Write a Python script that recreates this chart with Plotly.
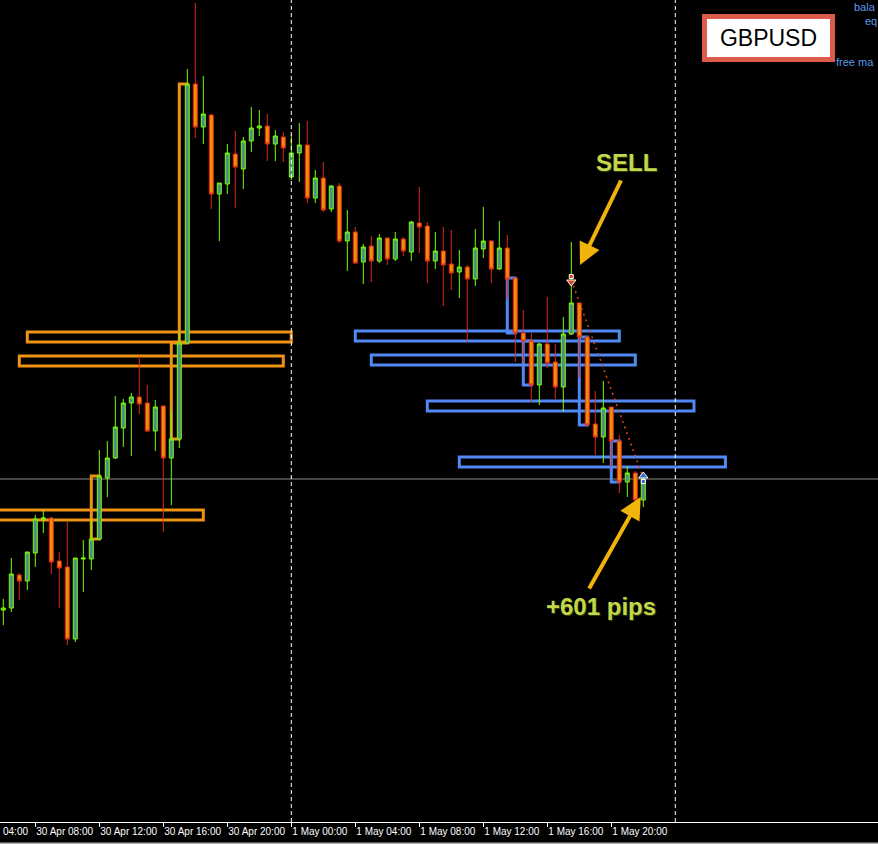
import pandas as pd
import plotly.graph_objects as go

# ---------------- data ----------------
times = pd.date_range("2019-04-30 06:00", periods=81, freq="30min")

open_ = [1.2090, 1.2092, 1.2125, 1.2119, 1.2147, 1.2181, 1.2182, 1.2139, 1.2133, 1.2061,
         1.2141, 1.2141, 1.2161, 1.2222, 1.2242, 1.2272, 1.2297, 1.2303, 1.2297, 1.2269,
         1.2294, 1.2242, 1.2261, 1.2357, 1.2616, 1.2573, 1.2585, 1.2506, 1.2516, 1.2546,
         1.2531, 1.2559, 1.2572, 1.2574, 1.2556, 1.2563, 1.2523, 1.2547, 1.2555, 1.2502,
         1.2522, 1.2491, 1.2514, 1.2459, 1.2468, 1.2438, 1.2454, 1.2439, 1.2462, 1.2441,
         1.2461, 1.2448, 1.2477, 1.2474, 1.2439, 1.2449, 1.2436, 1.2428, 1.2433, 1.2421,
         1.2451, 1.2459, 1.2431, 1.2452, 1.2422, 1.2367, 1.2359, 1.2315, 1.2356, 1.2338,
         1.2313, 1.2366, 1.2397, 1.2363, 1.2276, 1.2263, 1.2293, 1.2259, 1.2218, 1.2227,
         1.2200]
high = [1.2101, 1.2142, 1.2127, 1.2148, 1.2185, 1.2190, 1.2183, 1.2148, 1.2178, 1.2142,
        1.2160, 1.2181, 1.2250, 1.2259, 1.2304, 1.2301, 1.2307, 1.2344, 1.2315, 1.2300,
        1.2295, 1.2290, 1.2368, 1.2631, 1.2697, 1.2624, 1.2586, 1.2517, 1.2556, 1.2569,
        1.2563, 1.2593, 1.2590, 1.2586, 1.2570, 1.2568, 1.2566, 1.2577, 1.2579, 1.2530,
        1.2538, 1.2515, 1.2517, 1.2490, 1.2473, 1.2456, 1.2464, 1.2466, 1.2462, 1.2468,
        1.2463, 1.2479, 1.2513, 1.2478, 1.2468, 1.2473, 1.2470, 1.2450, 1.2435, 1.2471,
        1.2493, 1.2460, 1.2479, 1.2465, 1.2422, 1.2390, 1.2367, 1.2357, 1.2403, 1.2356,
        1.2383, 1.2458, 1.2397, 1.2363, 1.2309, 1.2319, 1.2293, 1.2265, 1.2234, 1.2229,
        1.2224]
low = [1.2075, 1.2088, 1.2100, 1.2110, 1.2133, 1.2167, 1.2126, 1.2092, 1.2055, 1.2058,
       1.2108, 1.2130, 1.2160, 1.2203, 1.2241, 1.2253, 1.2244, 1.2286, 1.2268, 1.2249,
       1.2168, 1.2195, 1.2252, 1.2357, 1.2562, 1.2556, 1.2491, 1.2459, 1.2506, 1.2492,
       1.2511, 1.2548, 1.2564, 1.2539, 1.2539, 1.2538, 1.2520, 1.2518, 1.2497, 1.2497,
       1.2488, 1.2488, 1.2457, 1.2429, 1.2436, 1.2416, 1.2418, 1.2437, 1.2435, 1.2439,
       1.2444, 1.2439, 1.2447, 1.2417, 1.2431, 1.2394, 1.2410, 1.2402, 1.2358, 1.2414,
       1.2442, 1.2417, 1.2430, 1.2401, 1.2338, 1.2337, 1.2298, 1.2295, 1.2332, 1.2301,
       1.2288, 1.2365, 1.2322, 1.2274, 1.2245, 1.2237, 1.2233, 1.2207, 1.2203, 1.2197,
       1.2193]
close = [1.2092, 1.2126, 1.2119, 1.2148, 1.2181, 1.2182, 1.2138, 1.2132, 1.2061, 1.2142,
         1.2142, 1.2161, 1.2224, 1.2242, 1.2273, 1.2297, 1.2303, 1.2296, 1.2269, 1.2293,
         1.2242, 1.2261, 1.2357, 1.2616, 1.2573, 1.2586, 1.2506, 1.2517, 1.2547, 1.2533,
         1.2559, 1.2572, 1.2574, 1.2556, 1.2564, 1.2552, 1.2547, 1.2555, 1.2502, 1.2522,
         1.2490, 1.2514, 1.2459, 1.2468, 1.2437, 1.2453, 1.2439, 1.2462, 1.2441, 1.2461,
         1.2449, 1.2478, 1.2473, 1.2439, 1.2449, 1.2435, 1.2427, 1.2433, 1.2421, 1.2452,
         1.2459, 1.2431, 1.2452, 1.2421, 1.2367, 1.2359, 1.2315, 1.2356, 1.2337, 1.2313,
         1.2366, 1.2397, 1.2363, 1.2275, 1.2263, 1.2292, 1.2259, 1.2218, 1.2227, 1.2200,
         1.2221]

tick_vals = ["2019-04-30 08:00", "2019-04-30 12:00", "2019-04-30 16:00", "2019-04-30 20:00",
             "2019-05-01 00:00", "2019-05-01 04:00", "2019-05-01 08:00", "2019-05-01 12:00",
             "2019-05-01 16:00", "2019-05-01 20:00"]
tick_text = ["30 Apr 08:00", "30 Apr 12:00", "30 Apr 16:00", "30 Apr 20:00",
             "1 May 00:00", "1 May 04:00", "1 May 08:00", "1 May 12:00",
             "1 May 16:00", "1 May 20:00"]

separators = ["2019-05-01 00:00", "2019-05-02 00:00"]

# supply / demand zones (orange)
orange_start = ["2019-04-30 07:30", "2019-04-30 07:00", "2019-04-30 04:30",
                "2019-04-30 11:30", "2019-04-30 16:30", "2019-04-30 17:00"]
orange_end = ["2019-05-01 00:00", "2019-04-30 23:30", "2019-04-30 18:30",
              "2019-04-30 12:00", "2019-04-30 17:00", "2019-04-30 17:30"]
orange_top = [1.2368, 1.2344, 1.2190, 1.2224, 1.2357, 1.2616]
orange_bottom = [1.2358, 1.2334, 1.2180, 1.2161, 1.2261, 1.2357]

# zones (blue)
blue_start = ["2019-05-01 04:00", "2019-05-01 05:00", "2019-05-01 08:30", "2019-05-01 10:30",
              "2019-05-01 13:30", "2019-05-01 14:30", "2019-05-01 18:00", "2019-05-01 20:00"]
blue_end = ["2019-05-01 20:30", "2019-05-01 21:30", "2019-05-02 01:10", "2019-05-02 03:08",
            "2019-05-01 14:00", "2019-05-01 15:00", "2019-05-01 18:30", "2019-05-01 20:30"]
blue_top = [1.2369, 1.2345, 1.2299, 1.2243, 1.2422, 1.2359, 1.2363, 1.2259]
blue_bottom = [1.2359, 1.2335, 1.2289, 1.2233, 1.2367, 1.2315, 1.2275, 1.2218]

# trade
trade_time = ["2019-05-01 17:30", "2019-05-01 22:00"]
trade_price = [1.2420, 1.2222]
bid_price = close[-1]

sell_label = "SELL"
result_label = "+601 pips"
symbol_name = "GBPUSD"
account_labels = ["bala", "eq", "free ma"]

# ---------------- styles ----------------
BULL_FILL = "#4F8F85"
BULL_LINE = "#7CFC00"
BEAR_FILL = "#F08C0A"
BEAR_LINE = "#E22A18"
ORANGE = "#EE9214"
BLUE = "#5088F5"
ARROW = "#F0B40A"
TXT = "#C4D64C"
FONT = "Liberation Sans"

fig = go.Figure()

fig.add_trace(go.Candlestick(
    x=times, open=open_, high=high, low=low, close=close,
    increasing=dict(fillcolor=BULL_FILL, line=dict(color=BULL_LINE, width=1)),
    decreasing=dict(fillcolor=BEAR_FILL, line=dict(color=BEAR_LINE, width=1)),
    whiskerwidth=0, hoverinfo="skip", showlegend=False,
))

# trade dotted line
fig.add_trace(go.Scatter(
    x=trade_time, y=trade_price, mode="lines",
    line=dict(color="#E8431C", width=1.5, dash="2px,4px"),
    hoverinfo="skip", showlegend=False,
))

stem = 0.00035
head = 0.0002
# sell arrow (red, pointing down)
fig.add_trace(go.Scatter(x=[trade_time[0]], y=[trade_price[0] + stem], mode="markers",
                         marker=dict(symbol="square", size=4, color="#E0401A",
                                     line=dict(color="white", width=1)),
                         hoverinfo="skip", showlegend=False))
fig.add_trace(go.Scatter(x=[trade_time[0]], y=[trade_price[0] - head], mode="markers",
                         marker=dict(symbol="triangle-down", size=8, color="#E0401A",
                                     line=dict(color="white", width=1)),
                         hoverinfo="skip", showlegend=False))
# close arrow (blue, pointing up)
fig.add_trace(go.Scatter(x=[trade_time[1]], y=[trade_price[1] - stem], mode="markers",
                         marker=dict(symbol="square", size=4, color="#3A66D8",
                                     line=dict(color="white", width=1)),
                         hoverinfo="skip", showlegend=False))
fig.add_trace(go.Scatter(x=[trade_time[1]], y=[trade_price[1] + head], mode="markers",
                         marker=dict(symbol="triangle-up", size=8, color="#3A66D8",
                                     line=dict(color="white", width=1)),
                         hoverinfo="skip", showlegend=False))

shapes = []
for s, e, t, b in zip(orange_start, orange_end, orange_top, orange_bottom):
    shapes.append(dict(type="rect", xref="x", yref="y", x0=s, x1=e, y0=b, y1=t,
                       line=dict(color=ORANGE, width=3), fillcolor="rgba(0,0,0,0)",
                       layer="below"))
for s, e, t, b in zip(blue_start, blue_end, blue_top, blue_bottom):
    shapes.append(dict(type="rect", xref="x", yref="y", x0=s, x1=e, y0=b, y1=t,
                       line=dict(color=BLUE, width=3), fillcolor="rgba(0,0,0,0)",
                       layer="below"))
# bid line
shapes.append(dict(type="line", xref="paper", yref="y", x0=0, x1=1, y0=bid_price, y1=bid_price,
                   line=dict(color="#8A8A8A", width=1), layer="below"))
# period separators
for sp in separators:
    shapes.append(dict(type="line", xref="x", yref="paper", x0=sp, x1=sp, y0=0, y1=1,
                       line=dict(color="white", width=1, dash="4px,3px"), layer="above"))
# bottom border of the window
shapes.append(dict(type="line", xref="paper", yref="paper", x0=0, x1=1,
                   y0=-0.0262, y1=-0.0262, line=dict(color="#B0B0B0", width=2)))

annotations = [
    # SELL arrow
    dict(xref="x", yref="y", axref="x", ayref="y",
         x="2019-05-01 18:02:36", y=1.2435, ax="2019-05-01 20:39:00", ay=1.2521,
         text="", showarrow=True, arrowhead=2, arrowsize=1.1, arrowwidth=4, arrowcolor=ARROW),
    # result arrow
    dict(xref="x", yref="y", axref="x", ayref="y",
         x="2019-05-01 21:50:24", y=1.2203, ax="2019-05-01 18:33:45", ay=1.2110,
         text="", showarrow=True, arrowhead=2, arrowsize=1.1, arrowwidth=4, arrowcolor=ARROW),
    dict(xref="x", yref="y", x="2019-05-01 20:58:48", y=1.2538, text="<b>%s</b>" % sell_label,
         showarrow=False, xanchor="center", yanchor="middle",
         font=dict(family=FONT, size=24, color=TXT, shadow="1px 1px 1px #3A4400")),
    dict(xref="x", yref="y", x="2019-05-01 19:19:36", y=1.2094, text="<b>%s</b>" % result_label,
         showarrow=False, xanchor="center", yanchor="middle",
         font=dict(family=FONT, size=24, color=TXT, shadow="1px 1px 1px #3A4400")),
    # symbol box
    dict(xref="paper", yref="paper", x=0.87528, y=0.95395, text=symbol_name, showarrow=False,
         xanchor="center", yanchor="middle", width=123, height=38,
         bgcolor="white", bordercolor="#DC5A4A", borderwidth=5, borderpad=0,
         font=dict(family=FONT, size=23, color="black")),
    # truncated account labels
    dict(xref="paper", yref="paper", x=853 / 878, y=1.0, text=account_labels[0],
         showarrow=False, xanchor="left", yanchor="top", borderpad=0,
         font=dict(family=FONT, size=11, color="#5A9AEA")),
    dict(xref="paper", yref="paper", x=864 / 878, y=1 - 14 / 822, text=account_labels[1],
         showarrow=False, xanchor="left", yanchor="top", borderpad=0,
         font=dict(family=FONT, size=11, color="#5A9AEA")),
    dict(xref="paper", yref="paper", x=835 / 878, y=1 - 62 / 822, text=account_labels[2],
         showarrow=False, xanchor="left", yanchor="middle", borderpad=0,
         font=dict(family=FONT, size=11, color="#5A9AEA")),
    # truncated first time label
    dict(xref="paper", yref="paper", x=0.001, y=-(831.5 - 822) / 822, text="04:00",
         showarrow=False, xanchor="left", yanchor="middle",
         font=dict(family=FONT, size=10, color="white")),
]

fig.update_layout(
    width=878, height=844,
    margin=dict(l=0, r=0, t=0, b=22),
    paper_bgcolor="black", plot_bgcolor="black",
    showlegend=False, hovermode=False,
    boxgap=0.5, boxgroupgap=0,
    shapes=shapes, annotations=annotations,
    xaxis=dict(
        type="date",
        range=["2019-04-30 05:47:37.5", "2019-05-02 12:40:07.5"],
        rangeslider=dict(visible=False),
        showgrid=False, zeroline=False,
        showline=True, linecolor="white", linewidth=1,
        ticks="outside", ticklen=4, tickcolor="white", tickwidth=1,
        tickmode="array", tickvals=tick_vals, ticktext=tick_text,
        ticklabelposition="outside right", tickangle=0,
        tickfont=dict(family=FONT, size=10, color="white"),
        fixedrange=True,
    ),
    yaxis=dict(range=[1.1878, 1.2700], visible=False, showgrid=False,
               zeroline=False, fixedrange=True),
)

fig.write_html(
    "out.html",
    config=dict(displayModeBar=False),
    post_script="document.body.style.margin='0px';document.body.style.overflow='hidden';",
)
